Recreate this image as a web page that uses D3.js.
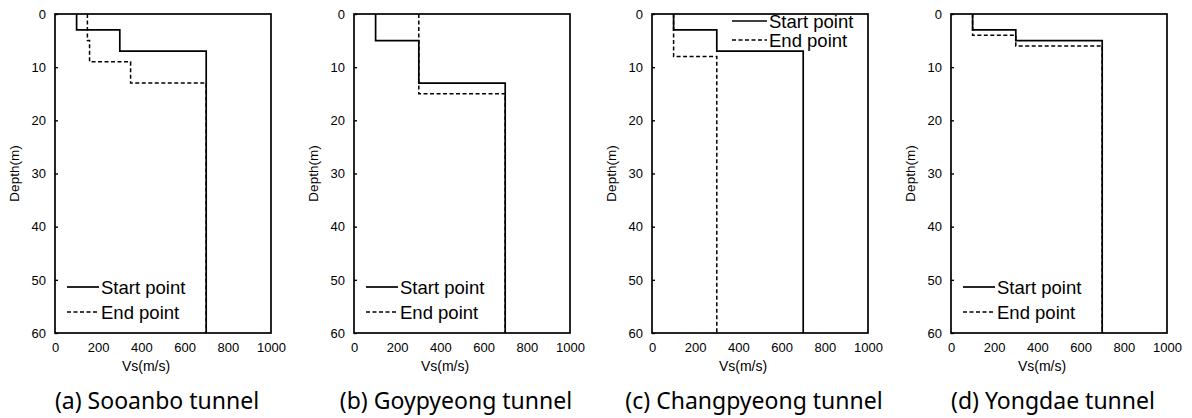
<!DOCTYPE html>
<html>
<head>
<meta charset="utf-8">
<script src="https://cdn.jsdelivr.net/npm/d3@7"></script>
<style>
  html, body { margin: 0; padding: 0; background: #fff; }
  svg { display: block; }
  text { font-family: "Liberation Sans", Arial, sans-serif; fill: #000; }
  text.caption { font-family: "Noto Sans", "Open Sans", sans-serif; }
</style>
</head>
<body>
<svg id="chart" width="1192" height="418"></svg>
<script>
// Shear-wave velocity profiles: each layer is [Vs (m/s), top depth, bottom depth]
const tunnels = ["(a) Sooanbo tunnel", "(b) Goypyeong tunnel", "(c) Changpyeong tunnel", "(d) Yongdae tunnel"];
const seriesNames = ["Start point", "End point"];

const sooanboStart = [[100, 0, 3], [300, 3, 7], [700, 7, 60]];
const sooanboEnd   = [[150, 0, 5], [160, 5, 9], [350, 9, 13], [700, 13, 60]];
const goypyeongStart = [[100, 0, 5], [300, 5, 13], [700, 13, 60]];
const goypyeongEnd   = [[300, 0, 15], [700, 15, 60]];
const changpyeongStart = [[100, 0, 3], [300, 3, 7], [700, 7, 60]];
const changpyeongEnd   = [[100, 0, 8], [300, 8, 60]];
const yongdaeStart = [[100, 0, 3], [300, 3, 5], [700, 5, 60]];
const yongdaeEnd   = [[100, 0, 4], [300, 4, 6], [700, 6, 60]];

const xTicks = [0, 200, 400, 600, 800, 1000];
const yTicks = [0, 10, 20, 30, 40, 50, 60];

const panels = [
  { start: sooanboStart, end: sooanboEnd, legend: "bottom" },
  { start: goypyeongStart, end: goypyeongEnd, legend: "bottom" },
  { start: changpyeongStart, end: changpyeongEnd, legend: "top" },
  { start: yongdaeStart, end: yongdaeEnd, legend: "bottom" }
];

const svg = d3.select("#chart");
const plotLefts = [55, 354, 652, 951];
const plotW = 216, plotTop = 14, plotBottom = 333;
const tickFont = "'Liberation Sans', Arial, sans-serif";

// Turn layer list into step-profile points
function stepPoints(layers) {
  const pts = [];
  layers.forEach(([v, top, bot]) => { pts.push([v, top]); pts.push([v, bot]); });
  return pts;
}

panels.forEach((p, i) => {
  const left = plotLefts[i];
  const x = d3.scaleLinear().domain([0, 1000]).range([left, left + plotW]);
  const y = d3.scaleLinear().domain([0, 60]).range([plotTop, plotBottom]);
  const g = svg.append("g");

  const line = d3.line().x(d => x(d[0])).y(d => y(d[1]));

  // profiles
  g.append("path").attr("d", line(stepPoints(p.end)))
    .attr("fill", "none").attr("stroke", "#000").attr("stroke-width", 1.5)
    .attr("stroke-dasharray", "4,2.5");
  g.append("path").attr("d", line(stepPoints(p.start)))
    .attr("fill", "none").attr("stroke", "#000").attr("stroke-width", 1.7);

  // frame
  g.append("rect").attr("x", x(0)).attr("y", y(0))
    .attr("width", x(1000) - x(0)).attr("height", y(60) - y(0))
    .attr("fill", "none").attr("stroke", "#000").attr("stroke-width", 1.7);

  // y axis: inward ticks
  const yAxis = d3.axisLeft(y).tickValues(yTicks).tickFormat(d3.format("d"))
    .tickSizeInner(-3).tickSizeOuter(0).tickPadding(9);
  const ya = g.append("g").attr("transform", `translate(${x(0)},0)`).call(yAxis)
    .attr("font-family", tickFont).attr("font-size", 13);
  ya.select(".domain").remove();
  ya.selectAll("line").attr("stroke-width", 1.4);

  // x axis labels
  const xAxis = d3.axisBottom(x).tickValues(xTicks).tickFormat(d3.format("d"))
    .tickSize(0).tickPadding(10);
  const xa = g.append("g").attr("transform", `translate(0,${y(60)})`).call(xAxis)
    .attr("font-family", tickFont).attr("font-size", 13);
  xa.select(".domain").remove();

  // axis titles
  g.append("text").attr("x", (x(0) + x(1000)) / 2 - 17).attr("y", 371)
    .attr("text-anchor", "middle").attr("font-size", 14).text("Vs(m/s)");
  g.append("text")
    .attr("transform", `translate(${x(0) - 36},${(y(0) + y(60)) / 2}) rotate(-90)`)
    .attr("text-anchor", "middle").attr("font-size", 13.5).text("Depth(m)");

  // legend
  const lg = p.legend === "bottom"
    ? { x0: left + 12, x1: left + 44, ys: [287, 312] }
    : { x0: left + 80, x1: left + 115, ys: [21, 40] };
  seriesNames.forEach((name, k) => {
    const ly = lg.ys[k];
    g.append("line").attr("x1", lg.x0).attr("x2", lg.x1).attr("y1", ly).attr("y2", ly)
      .attr("stroke", "#000").attr("stroke-width", k === 0 ? 1.7 : 1.5)
      .attr("stroke-dasharray", k === 0 ? null : "4,2.5");
    g.append("text").attr("x", lg.x1 + 2).attr("y", ly + 6.5)
      .attr("font-size", 18.5).text(name);
  });

  // caption
  g.append("text").attr("class", "caption")
    .attr("x", (x(0) + x(1000)) / 2 - 6).attr("y", 409)
    .attr("text-anchor", "middle").attr("font-size", 23).text(tunnels[i]);
});
</script>
</body>
</html>
